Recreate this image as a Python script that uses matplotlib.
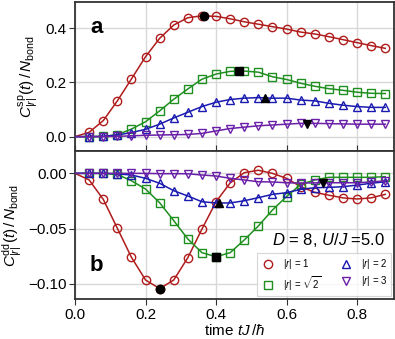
import numpy as np
import matplotlib
matplotlib.use("Agg")
import matplotlib.pyplot as plt

plt.rcParams['font.family'] = ['Liberation Sans', 'DejaVu Sans']
plt.rcParams['mathtext.fontset'] = 'custom'
plt.rcParams['mathtext.rm'] = 'Liberation Sans'
plt.rcParams['mathtext.it'] = 'Liberation Sans:italic'
plt.rcParams['mathtext.bf'] = 'Liberation Sans:bold'

# czasy (t = 0 oraz punkty co 0.04)
times = [0.0, 0.04, 0.08, 0.12, 0.16, 0.20, 0.24, 0.28, 0.32, 0.36, 0.40, 0.44,
         0.48, 0.52, 0.56, 0.60, 0.64, 0.68, 0.72, 0.76, 0.80, 0.84, 0.88]

# panel a: C^sp
sp_r1 = [0.0, 0.016, 0.059, 0.132, 0.213, 0.295, 0.363, 0.412, 0.439, 0.446, 0.444, 0.435,
         0.424, 0.415, 0.406, 0.397, 0.386, 0.379, 0.369, 0.358, 0.347, 0.336, 0.326]
sp_rs2 = [0.0, 0.0, 0.001, 0.007, 0.028, 0.055, 0.095, 0.138, 0.176, 0.212, 0.231, 0.241,
          0.242, 0.238, 0.221, 0.211, 0.197, 0.186, 0.177, 0.171, 0.164, 0.160, 0.159]
sp_r2 = [0.0, 0.0, 0.001, 0.006, 0.015, 0.027, 0.046, 0.069, 0.090, 0.111, 0.127, 0.137,
         0.142, 0.144, 0.142, 0.142, 0.135, 0.132, 0.123, 0.116, 0.111, 0.108, 0.108]
sp_r3 = [0.0, 0.0, 0.0, 0.001, 0.003, 0.005, 0.006, 0.007, 0.008, 0.012, 0.021, 0.030,
         0.035, 0.040, 0.043, 0.046, 0.049, 0.049, 0.048, 0.047, 0.046, 0.046, 0.046]

# panel b: C^dd
dd_r1 = [0.0, -0.006, -0.0235, -0.0497, -0.076, -0.0965, -0.1043, -0.0965, -0.0763, -0.0504,
         -0.0257, -0.0087, 0.0006, 0.0028, 0.0, -0.0045, -0.012, -0.0172, -0.0198, -0.0222,
         -0.0232, -0.0222, -0.019]
dd_rs2 = [0.0, 0.0, 0.0, -0.001, -0.0067, -0.0142, -0.0266, -0.0428, -0.0594, -0.0718,
          -0.0754, -0.0718, -0.0603, -0.0476, -0.0332, -0.021, -0.010, -0.006, -0.0036,
          -0.0036, -0.0036, -0.0036, -0.003]
dd_r2 = [0.0, 0.0, 0.0, -0.0005, -0.0015, -0.0045, -0.009, -0.0157, -0.0205, -0.0257,
         -0.0268, -0.0268, -0.0248, -0.022, -0.019, -0.0175, -0.0145, -0.013, -0.0127,
         -0.0121, -0.0106, -0.009, -0.0076]
dd_r3 = [0.0, 0.0, 0.0, 0.0, 0.0, 0.0, -0.0003, -0.0003, -0.0004, -0.0015, -0.0024, -0.0045,
         -0.006, -0.0076, -0.0078, -0.0085, -0.0088, -0.0086, -0.0085, -0.0085, -0.0085,
         -0.0078, -0.0068]

# ekstrema (czarne znaczniki)
sp_peak_t = [0.365, 0.464, 0.54, 0.658]
sp_peak_v = [0.447, 0.244, 0.144, 0.047]
dd_peak_t = [0.241, 0.40, 0.407, 0.703]
dd_peak_v = [-0.1043, -0.0754, -0.0271, -0.0088]

labels = [r'$|r|$ = 1', r'$|r|$ = $\sqrt{2}$', r'$|r|$ = 2', r'$|r|$ = 3']
colors = ['#b01c1c', '#1f8f1f', '#1a1ab0', '#6a1fa8']
markers = ['o', 's', '^', 'v']

fig = plt.figure(figsize=(3.95, 3.39), dpi=100)
ax1 = fig.add_axes([0.19, 0.5546, 0.8076, 0.4395])
ax2 = fig.add_axes([0.19, 0.117, 0.8076, 0.4375])

t = np.array(times)
sp = [sp_r1, sp_rs2, sp_r2, sp_r3]
dd = [dd_r1, dd_rs2, dd_r2, dd_r3]

for ax, data, pt, pv in [(ax1, sp, sp_peak_t, sp_peak_v), (ax2, dd, dd_peak_t, dd_peak_v)]:
    ax.grid(True, color='#d8d8d8', lw=1.0, zorder=0)
    ax.set_axisbelow(True)
    for i in range(4):
        ax.plot(t, data[i], color=colors[i], lw=1.1, marker=markers[i], markevery=slice(1, None),
                markersize=6, mfc='none', mec=colors[i], mew=1.0, label=labels[i], zorder=3)
        ax.plot(pt[i], pv[i], marker=markers[i], color='black', markersize=6, ls='none', zorder=4)
    ax.set_xlim(0, 0.905)
    for s in ax.spines.values():
        s.set_color('#333333')
        s.set_linewidth(1.3)
    ax.tick_params(labelsize=11, color='#333333', length=4, pad=2)

ax1.set_ylim(-0.053, 0.497)
ax1.set_yticks([0.0, 0.2, 0.4])
ax1.set_xticks([0.0, 0.2, 0.4, 0.6, 0.8])
ax1.tick_params(axis='x', direction='in', labelbottom=False)
ax1.set_ylabel(r'$C^{\rm sp}_{|r|}(t)\,/\,N_{\rm bond}$', fontsize=11, labelpad=3)
ax1.text(0.066, 0.826, 'a', transform=ax1.transAxes, fontsize=16, fontweight='bold',
         ha='center', va='center')

ax2.set_ylim(-0.114, 0.0202)
ax2.set_yticks([0.0, -0.05, -0.10])
ax2.set_yticklabels(['0.00', '\u22120.05', '\u22120.10'])
ax2.set_xticks([0.0, 0.2, 0.4, 0.6, 0.8])
ax2.set_ylabel(r'$C^{\rm dd}_{|r|}(t)\,/\,N_{\rm bond}$', fontsize=11, labelpad=3)
ax2.set_xlabel(r'time $tJ\,/\hbar$', fontsize=11, labelpad=1)
ax2.text(0.066, 0.23, 'b', transform=ax2.transAxes, fontsize=16, fontweight='bold',
         ha='center', va='center')
ax2.text(0.972, 0.40, r'$D$ = 8, $U/J$ =5.0', transform=ax2.transAxes, fontsize=12,
         ha='right', va='center')

leg = ax2.legend(loc='lower right', ncol=2, fontsize=7, frameon=True, fancybox=False,
                 borderpad=0.4, handlelength=1.5, columnspacing=1.8, handletextpad=0.8,
                 labelspacing=0.3, borderaxespad=0.3)
leg.get_frame().set_edgecolor('#cccccc')
leg.get_frame().set_linewidth(0.8)
for h in leg.legend_handles:
    h.set_linestyle('none')

fig.savefig('out.png', dpi=100)
